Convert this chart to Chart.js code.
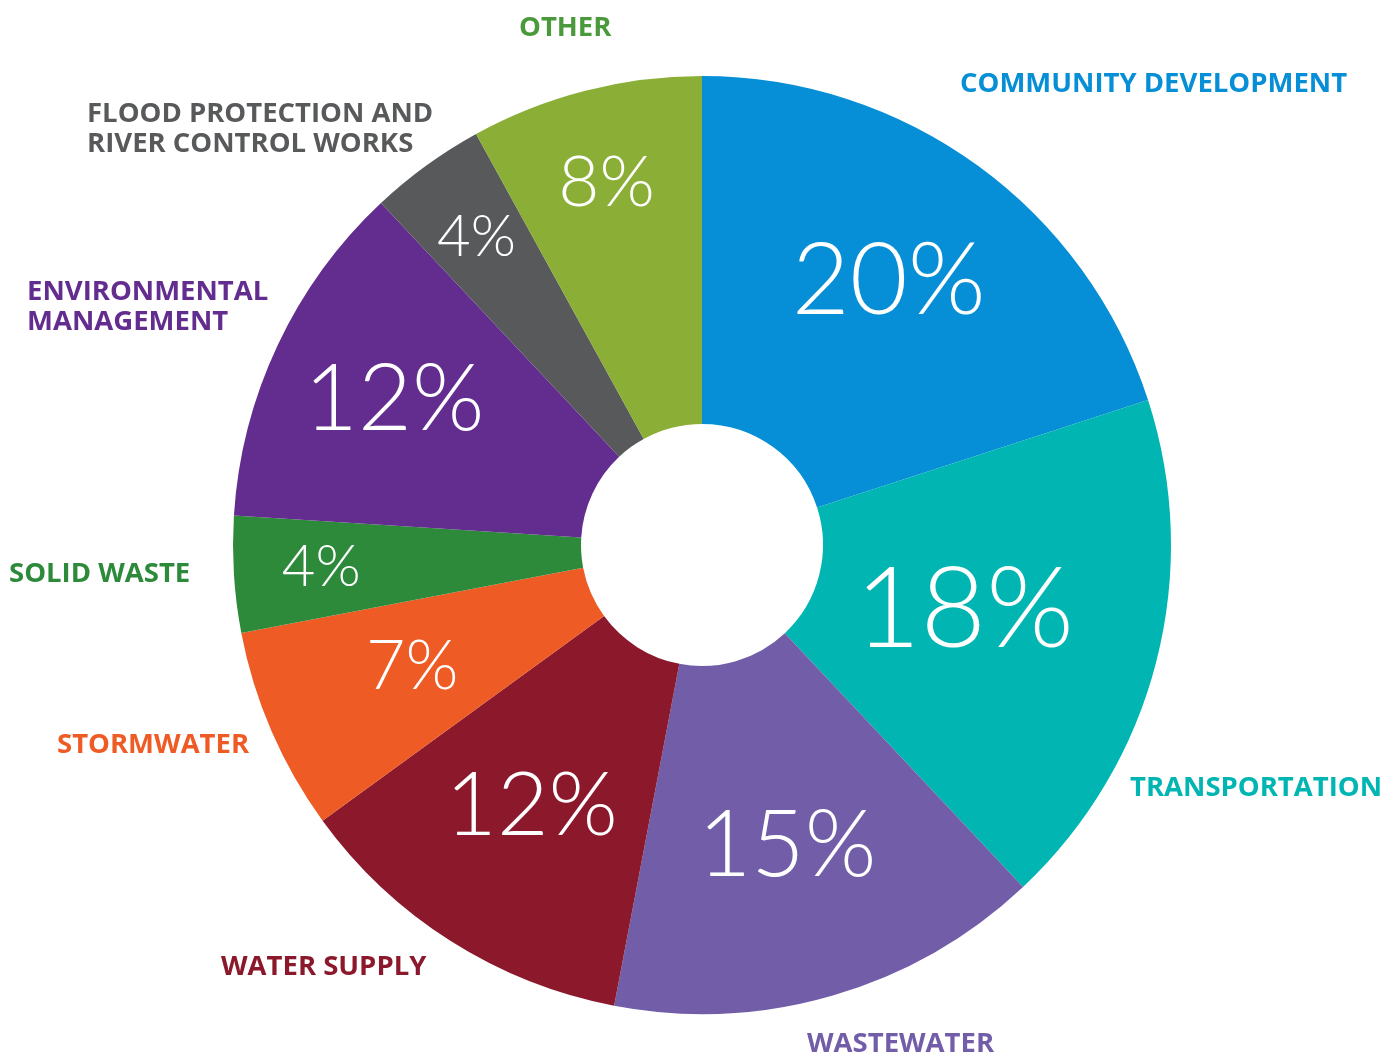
<!DOCTYPE html>
<html>
<head>
<meta charset="utf-8">
<title>Share by category</title>
<script src="https://cdn.jsdelivr.net/npm/chart.js@4/dist/chart.umd.min.js"></script>
<style>
  html, body { margin: 0; padding: 0; background: #fff; }
  #pie { display: block; }
</style>
</head>
<body>
<canvas id="pie" width="1400" height="1057"></canvas>
<script>
// datos del gráfico
const categories = ['Community Development', 'Transportation', 'Wastewater', 'Water Supply',
  'Stormwater', 'Solid Waste', 'Environmental Management', 'Flood Protection and River Control Works', 'Other'];
const shares = [20, 18, 15, 12, 7, 4, 12, 4, 8];
const sliceColors = ['#068ED6', '#00B5B2', '#725DA8', '#8B182B', '#EE5B25', '#2E8A3B', '#632C8F', '#58595B', '#8AAE36'];
const labelColors = ['#068ED6', '#00B5B2', '#725DA8', '#8B182B', '#EE5B25', '#2E8A3B', '#632C8F', '#58595B', '#4A9A3C'];
const labelLines = [
  ['COMMUNITY DEVELOPMENT'], ['TRANSPORTATION'], ['WASTEWATER'], ['WATER SUPPLY'],
  ['STORMWATER'], ['SOLID WASTE'], ['ENVIRONMENTAL', 'MANAGEMENT'],
  ['FLOOD PROTECTION AND', 'RIVER CONTROL WORKS'], ['OTHER']
];

// dónde va cada texto (solo presentación)
const outerPos = [
  {x: 960, y: 82}, {x: 1130, y: 786}, {x: 807, y: 1042}, {x: 221, y: 965},
  {x: 57, y: 743}, {x: 9, y: 572}, {x: 27, y: 290}, {x: 87, y: 112}, {x: 519, y: 26}
];
const pctRadius = [0.58, 0.44, 0.56, 0.55, 0.55, 0.74, 0.62, 0.74, 0.72];
const pctSize = [100, 113, 92, 89, 68, 58, 93, 58, 71];

const sliceLabels = {
  id: 'sliceLabels',
  afterDatasetsDraw(chart) {
    const ctx = chart.ctx;
    const meta = chart.getDatasetMeta(0);
    ctx.save();
    // porcentajes dentro de cada porción
    meta.data.forEach((arc, i) => {
      const p = arc.getProps(['x', 'y', 'startAngle', 'endAngle', 'innerRadius', 'outerRadius'], true);
      const mid = (p.startAngle + p.endAngle) / 2;
      const r = p.innerRadius + pctRadius[i] * (p.outerRadius - p.innerRadius);
      const size = pctSize[i];
      ctx.font = '300 ' + size + 'px Lato, Roboto, sans-serif';
      ctx.fillStyle = '#ffffff';
      ctx.textAlign = 'center';
      ctx.textBaseline = 'alphabetic';
      ctx.fillText(shares[i] + '%', p.x + Math.cos(mid) * r - 3, p.y + Math.sin(mid) * r + size * 0.3);
    });
    // nombres de categoría afuera
    ctx.font = 'bold 27.5px "Open Sans", "Noto Sans", sans-serif';
    ctx.textAlign = 'left';
    labelLines.forEach((lines, i) => {
      ctx.fillStyle = labelColors[i];
      lines.forEach((txt, j) => {
        ctx.fillText(txt, outerPos[i].x, outerPos[i].y + j * 30 + 10);
      });
    });
    ctx.restore();
  }
};

const data = {
  labels: categories,
  datasets: [{
    data: shares,
    backgroundColor: sliceColors,
    borderWidth: 0,
    hoverOffset: 0
  }]
};

const config = {
  type: 'doughnut',
  data: data,
  options: {
    responsive: false,
    animation: false,
    cutout: '25.8%',
    layout: {
      padding: { left: 233, right: 229, top: 76, bottom: 43 }
    },
    plugins: {
      legend: { display: false },
      tooltip: { enabled: false }
    }
  },
  plugins: [sliceLabels]
};

new Chart(document.getElementById('pie').getContext('2d'), config);
</script>
</body>
</html>
